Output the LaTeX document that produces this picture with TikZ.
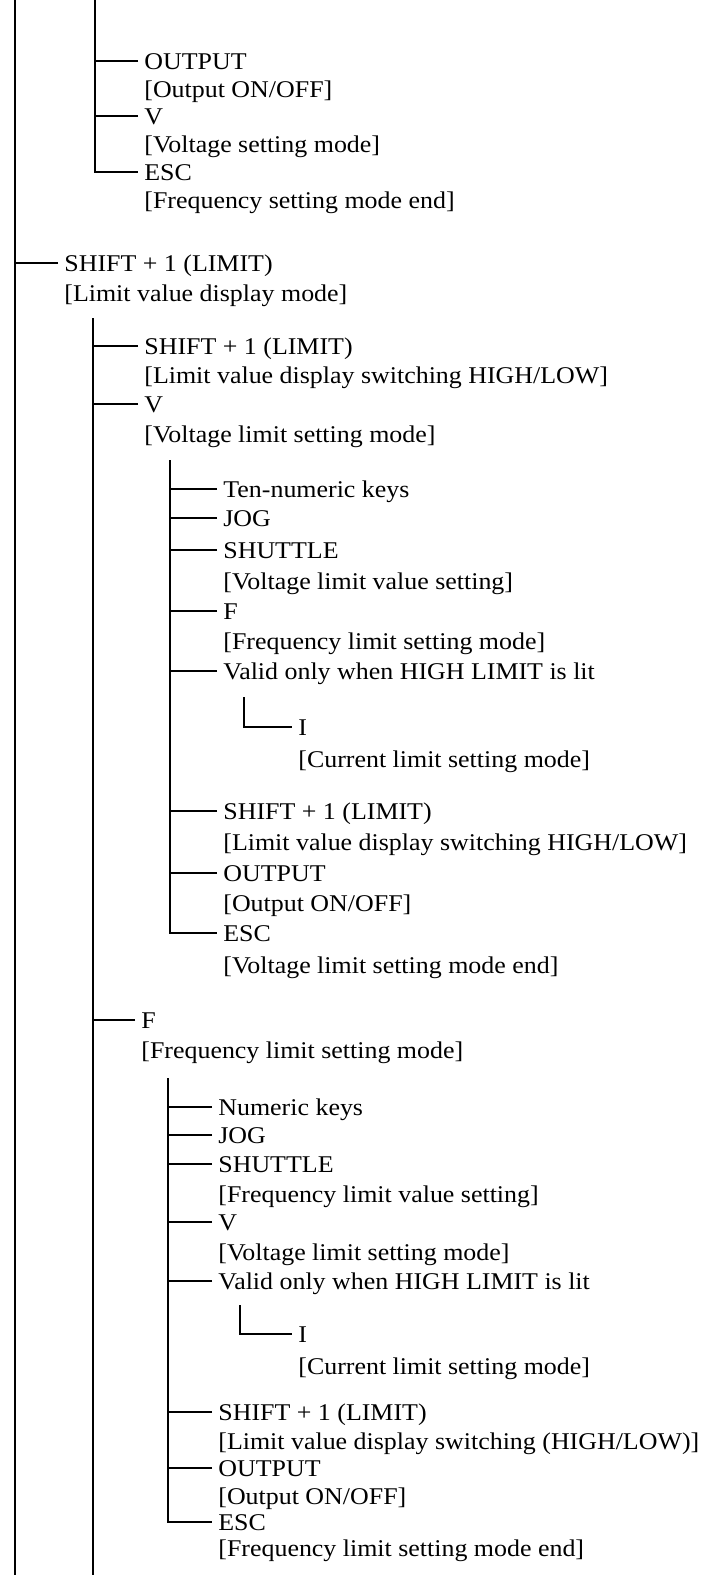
\documentclass[tikz,border=0pt]{standalone}
\usepackage{fontspec}
\setmainfont{Liberation Serif}[FakeStretch=1.08]
\begin{document}
\begin{tikzpicture}[x=0.5pt,y=-0.5pt,
  lbl/.style={anchor=west,inner xsep=3pt,inner ysep=0pt,text height=8pt,text depth=0pt,font=\fontsize{12}{14}\selectfont},
  tree/.style={line width=0.55pt,black}]
\useasboundingbox (0,0) rectangle (713,1575);

% ---------- top subtree (frequency setting mode) ----------
\coordinate (Btop) at (95,0);
\node[lbl] (b1) at (138,61) {OUTPUT};
\node[lbl] (b1d) at (138,89) {[Output ON/OFF]};
\node[lbl] (b2) at (138,116) {V};
\node[lbl] (b2d) at (138,144) {[Voltage setting mode]};
\node[lbl] (b3) at (138,172) {ESC};
\node[lbl] (b3d) at (138,200) {[Frequency setting mode end]};
\draw[tree] (Btop) |- (b3.west);
\draw[tree] (b1.west) -- (b1.west -| Btop);
\draw[tree] (b2.west) -- (b2.west -| Btop);

% ---------- main line ----------
\coordinate (Atop) at (15,0);
\coordinate (Abot) at (15,1575);
\draw[tree] (Atop) -- (Abot);
\node[lbl] (a1) at (58,263) {SHIFT + 1 (LIMIT)};
\node[lbl] (a1d) at (58,293) {[Limit value display mode]};
\draw[tree] (a1.west) -- (a1.west -| Atop);

% ---------- level C ----------
\coordinate (Ctop) at (93,318);
\coordinate (Cbot) at (93,1575);
\draw[tree] (Ctop) -- (Cbot);
\node[lbl] (c1) at (138,346) {SHIFT + 1 (LIMIT)};
\node[lbl] (c1d) at (138,375) {[Limit value display switching HIGH/LOW]};
\node[lbl] (c2) at (138,404) {V};
\node[lbl] (c2d) at (138,434) {[Voltage limit setting mode]};
\node[lbl] (c3) at (135,1020) {F};
\node[lbl] (c3d) at (135,1050) {[Frequency limit setting mode]};
\draw[tree] (c1.west) -- (c1.west -| Ctop);
\draw[tree] (c2.west) -- (c2.west -| Ctop);
\draw[tree] (c3.west) -- (c3.west -| Ctop);

% ---------- level D (voltage limit setting) ----------
\coordinate (Dtop) at (170,460);
\node[lbl] (d1) at (217,489) {Ten-numeric keys};
\node[lbl] (d2) at (217,518) {JOG};
\node[lbl] (d3) at (217,550) {SHUTTLE};
\node[lbl] (d3d) at (217,581) {[Voltage limit value setting]};
\node[lbl] (d4) at (217,611) {F};
\node[lbl] (d4d) at (217,641) {[Frequency limit setting mode]};
\node[lbl] (d5) at (217,671) {Valid only when HIGH LIMIT is lit};
\node[lbl] (e1) at (292,727) {I};
\node[lbl] (e1d) at (292,759) {[Current limit setting mode]};
\node[lbl] (d6) at (217,811) {SHIFT + 1 (LIMIT)};
\node[lbl] (d6d) at (217,842) {[Limit value display switching HIGH/LOW]};
\node[lbl] (d7) at (217,873) {OUTPUT};
\node[lbl] (d7d) at (217,903) {[Output ON/OFF]};
\node[lbl] (d8) at (217,933) {ESC};
\node[lbl] (d8d) at (217,965) {[Voltage limit setting mode end]};
\draw[tree] (Dtop) |- (d8.west);
\foreach \n in {d1,d2,d3,d4,d5,d6,d7} \draw[tree] (\n.west) -- (\n.west -| Dtop);
\coordinate (Etop) at (244,697);
\draw[tree] (Etop) |- (e1.west);

% ---------- level D2 (frequency limit setting) ----------
\coordinate (Ftop) at (168,1078);
\node[lbl] (f1) at (212,1107) {Numeric keys};
\node[lbl] (f2) at (212,1135) {JOG};
\node[lbl] (f3) at (212,1164) {SHUTTLE};
\node[lbl] (f3d) at (212,1194) {[Frequency limit value setting]};
\node[lbl] (f4) at (212,1222) {V};
\node[lbl] (f4d) at (212,1252) {[Voltage limit setting mode]};
\node[lbl] (f5) at (212,1281) {Valid only when HIGH LIMIT is lit};
\node[lbl] (g1) at (292,1334) {I};
\node[lbl] (g1d) at (292,1366) {[Current limit setting mode]};
\node[lbl] (f6) at (212,1412) {SHIFT + 1 (LIMIT)};
\node[lbl] (f6d) at (212,1441) {[Limit value display switching (HIGH/LOW)]};
\node[lbl] (f7) at (212,1468) {OUTPUT};
\node[lbl] (f7d) at (212,1496) {[Output ON/OFF]};
\node[lbl] (f8) at (212,1522) {ESC};
\node[lbl] (f8d) at (212,1548) {[Frequency limit setting mode end]};
\draw[tree] (Ftop) |- (f8.west);
\foreach \n in {f1,f2,f3,f4,f5,f6,f7} \draw[tree] (\n.west) -- (\n.west -| Ftop);
\coordinate (Gtop) at (240,1305);
\draw[tree] (Gtop) |- (g1.west);
\end{tikzpicture}
\end{document}
